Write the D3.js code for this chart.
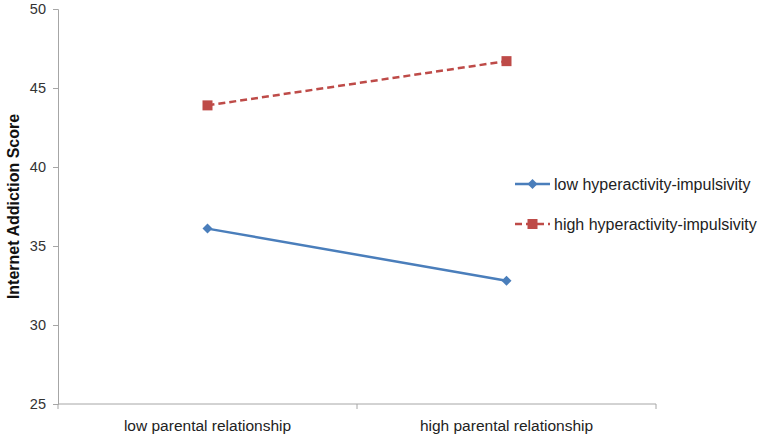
<!DOCTYPE html>
<html lang="en">
<head>
<meta charset="utf-8">
<title>internet addiction interaction</title>
<script src="https://cdn.jsdelivr.net/npm/d3@7"></script>
<style>
body{margin:0;background:#fff;}
text{font-family:"Liberation Sans",Arial,sans-serif;}
</style>
</head>
<body>
<div id="chart"></div>
<script>
// groups on the x axis
var categories = ["low parental relationship","high parental relationship"]
// series
var seriesNames = ["low hyperactivity-impulsivity","high hyperactivity-impulsivity"]
var lowHyper = [36.1, 32.8]
var highHyper = [43.9, 46.7]
var yTicks = [25,30,35,40,45,50]

var w = 759, h = 439
var padL = 58, padR = 656, padT = 9, padB = 404

var svg = d3.select("#chart").append("svg")
	.attr("width",w).attr("height",h)

var x = d3.scaleBand().domain(categories).range([padL,padR])
var y = d3.scaleLinear().domain([25,50]).range([padB,padT])

// y axis
var yAxis = svg.append("g")
	.attr("transform","translate("+padL+",0)")
	.call(d3.axisLeft(y).tickValues(yTicks).tickSize(5).tickPadding(7))
yAxis.select(".domain").attr("stroke","#a6a6a6")
yAxis.selectAll(".tick line").attr("stroke","#a6a6a6")
yAxis.selectAll("text").attr("fill","#333")
	.attr("font-family","'DejaVu Sans',sans-serif").attr("font-size",14.5)

// x axis with ticks on band edges
var xg = svg.append("g").attr("transform","translate(0,"+padB+")")
xg.append("line").attr("x1",padL).attr("x2",padR).attr("stroke","#a6a6a6")
var edges = [padL, x(categories[1]), padR]
xg.selectAll(".edge").data(edges).enter().append("line")
	.attr("x1",function(d){return d}).attr("x2",function(d){return d})
	.attr("y1",0).attr("y2",5).attr("stroke","#a6a6a6")
xg.selectAll(".lab").data(categories).enter().append("text")
	.attr("x",function(d){return x(d)+x.bandwidth()/2})
	.attr("y",27).attr("text-anchor","middle")
	.attr("font-size",15.5).attr("fill","#222")
	.text(function(d){return d})

// axis title
svg.append("text")
	.attr("transform","translate(19,"+((padT+padB)/2)+") rotate(-90)")
	.attr("text-anchor","middle").attr("font-weight","bold")
	.attr("font-size",16).attr("fill","#111")
	.text("Internet Addiction Score")

var series = [
	{name:seriesNames[0],values:lowHyper,color:"#4a7ebb",dash:null,shape:"diamond"},
	{name:seriesNames[1],values:highHyper,color:"#be4b48",dash:"7,4",shape:"square"}
]

var line = d3.line()
	.x(function(d,i){return x(categories[i])+x.bandwidth()/2})
	.y(function(d){return y(d)})

function marker(g,shape,color,cx,cy){
	if(shape=="diamond"){
		g.append("path").attr("d","M"+cx+","+(cy-5)+"L"+(cx+5)+","+cy+"L"+cx+","+(cy+5)+"L"+(cx-5)+","+cy+"Z")
			.attr("fill",color)
	}else{
		g.append("rect").attr("x",cx-5).attr("y",cy-5).attr("width",10).attr("height",10)
			.attr("fill",color)
	}
}

series.forEach(function(s,k){
	var g = svg.append("g")
	g.append("path").datum(s.values).attr("d",line)
		.attr("fill","none").attr("stroke",s.color).attr("stroke-width",2.5)
		.attr("stroke-dasharray",s.dash)
	s.values.forEach(function(v,i){
		marker(g,s.shape,s.color,x(categories[i])+x.bandwidth()/2,y(v))
	})
	// legend
	var ly = 184 + k*40
	var lg = svg.append("g")
	lg.append("line").attr("x1",515).attr("x2",550).attr("y1",ly).attr("y2",ly)
		.attr("stroke",s.color).attr("stroke-width",2.5).attr("stroke-dasharray",s.dash)
	marker(lg,s.shape,s.color,532.5,ly)
	lg.append("text").attr("x",554).attr("y",ly+5.5)
		.attr("font-size",16).attr("fill","#222").text(s.name)
})
</script>
</body>
</html>
